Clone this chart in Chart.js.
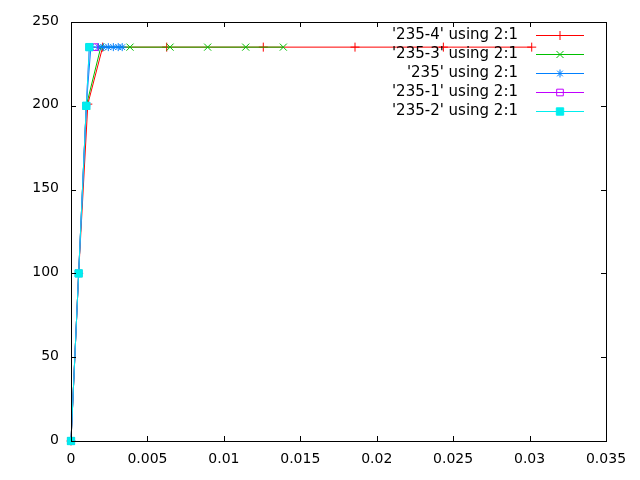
<!DOCTYPE html>
<html>
<head>
<meta charset="utf-8">
<script src="https://cdn.jsdelivr.net/npm/chart.js@4/dist/chart.umd.min.js"></script>
<style>
  html, body { margin: 0; padding: 0; background: #fff; }
  #wrap { width: 640px; height: 480px; }
</style>
</head>
<body>
<div id="wrap"><canvas id="plot" width="640" height="480"></canvas></div>
<script>
// series values (x = column 2, y = column 1)
const seriesNames = ["'235-4' using 2:1", "'235-3' using 2:1", "'235' using 2:1", "'235-1' using 2:1", "'235-2' using 2:1"];

const x235_4 = [0, 0.0005, 0.0011, 0.00207, 0.00626, 0.01258, 0.01858, 0.02436, 0.03014];
const y235_4 = [0, 100, 201, 235, 235, 235, 235, 235, 235];

const x235_3 = [0, 0.0005, 0.001, 0.00195, 0.00386, 0.00648, 0.00894, 0.01143, 0.01389];
const y235_3 = [0, 100, 200, 235, 235, 235, 235, 235, 235];

const x235 = [0, 0.0005, 0.001, 0.0013, 0.00179, 0.00211, 0.00244, 0.00277, 0.00309, 0.00335];
const y235 = [0, 100, 200, 235, 235, 235, 235, 235, 235, 235];

const x235_1 = [0, 0.0005, 0.001, 0.0012, 0.00154];
const y235_1 = [0, 100, 200, 235, 235];

const x235_2 = [0, 0.0005, 0.001, 0.0012];
const y235_2 = [0, 100, 200, 235];

const xTicks = [0, 0.005, 0.01, 0.015, 0.02, 0.025, 0.03, 0.035];
const yTicks = [0, 50, 100, 150, 200, 250];

// gnuplot-ish styles
const colors = ['#ff0000', '#00c000', '#0080ff', '#c000ff', '#00eeee'];
const shapes = ['cross', 'crossRot', 'star', 'rect', 'rect'];
const radii = [4.5, 5, 4, 4.7, 5.2];
const filled = [false, false, false, false, true];

const allX = [x235_4, x235_3, x235, x235_1, x235_2];
const allY = [y235_4, y235_3, y235, y235_1, y235_2];

const datasets = seriesNames.map((name, i) => ({
    label: name,
    data: allX[i].map((x, k) => ({ x: x, y: allY[i][k] })),
    showLine: true,
    borderColor: colors[i],
    backgroundColor: filled[i] ? colors[i] : 'rgba(0,0,0,0)',
    borderWidth: 1,
    pointStyle: shapes[i],
    pointRadius: radii[i],
    pointBorderWidth: 1,
    pointBorderColor: colors[i],
    pointBackgroundColor: filled[i] ? colors[i] : 'rgba(0,0,0,0)',
    clip: 12,
    order: seriesNames.length - i   // later series on top, like gnuplot
}));

function marker(ctx, i, x, y) {
    ctx.save();
    ctx.strokeStyle = colors[i];
    ctx.fillStyle = filled[i] ? colors[i] : 'rgba(0,0,0,0)';
    ctx.lineWidth = 1;
    Chart.helpers.drawPoint(ctx, { pointStyle: shapes[i], radius: radii[i], rotation: 0, borderWidth: 1 }, x, y);
    ctx.restore();
}

// frame, inward ticks on all four sides, and the gnuplot key
const gnuFrame = {
    id: 'gnuFrame',
    afterDatasetsDraw(chart) {
        const ctx = chart.ctx;
        const a = chart.chartArea;
        const xs = chart.scales.x, ys = chart.scales.y;
        const tl = 5;
        ctx.save();
        ctx.strokeStyle = '#000';
        ctx.lineWidth = 1;
        ctx.strokeRect(Math.round(a.left) + 0.5, Math.round(a.top) + 0.5,
            Math.round(a.right - a.left), Math.round(a.bottom - a.top));
        ctx.beginPath();
        xTicks.forEach(v => {
            const px = Math.round(xs.getPixelForValue(v)) + 0.5;
            ctx.moveTo(px, a.bottom); ctx.lineTo(px, a.bottom - tl);
            ctx.moveTo(px, a.top); ctx.lineTo(px, a.top + tl);
        });
        yTicks.forEach(v => {
            const py = Math.round(ys.getPixelForValue(v)) + 0.5;
            ctx.moveTo(a.left, py); ctx.lineTo(a.left + tl, py);
            ctx.moveTo(a.right, py); ctx.lineTo(a.right - tl, py);
        });
        ctx.stroke();
        ctx.restore();

        // key
        const textRight = 518, lineL = 536, lineW = 48, mid = 560;
        const rowY = [35, 54, 73, 92, 111];
        seriesNames.forEach((name, i) => {
            ctx.save();
            ctx.font = '15px "DejaVu Sans", sans-serif';
            ctx.textAlign = 'right';
            ctx.textBaseline = 'middle';
            ctx.fillStyle = '#000';
            ctx.fillText(name, textRight, rowY[i]);
            ctx.fillStyle = colors[i];
            ctx.fillRect(lineL, rowY[i], lineW, 1);
            ctx.restore();
            marker(ctx, i, mid, rowY[i] + 0.5);
        });
    }
};

new Chart(document.getElementById('plot'), {
    type: 'scatter',
    data: { datasets: datasets },
    options: {
        responsive: false,
        animation: false,
        devicePixelRatio: 1,
        layout: { padding: { top: 22, right: 34, left: 0, bottom: 0 } },
        plugins: { legend: { display: false }, tooltip: { enabled: false } },
        scales: {
            x: {
                type: 'linear',
                min: 0, max: 0.035,
                afterFit(s) { s.height = 39; },
                afterBuildTicks(s) { s.ticks = xTicks.map(v => ({ value: v })); },
                grid: { display: false, drawTicks: false },
                border: { display: false },
                ticks: {
                    padding: 10,
                    color: '#000',
                    font: { family: '"DejaVu Sans", sans-serif', size: 14 },
                    maxRotation: 0,
                    autoSkip: false,
                    callback: v => String(+Number(v).toFixed(4))
                }
            },
            y: {
                type: 'linear',
                min: 0, max: 250,
                afterFit(s) { s.width = 71; },
                afterBuildTicks(s) { s.ticks = yTicks.map(v => ({ value: v })); },
                grid: { display: false, drawTicks: false },
                border: { display: false },
                ticks: {
                    padding: 12,
                    labelOffset: -1,
                    color: '#000',
                    font: { family: '"DejaVu Sans", sans-serif', size: 14 },
                    autoSkip: false,
                    callback: v => String(v)
                }
            }
        }
    },
    plugins: [gnuFrame]
});
</script>
</body>
</html>
